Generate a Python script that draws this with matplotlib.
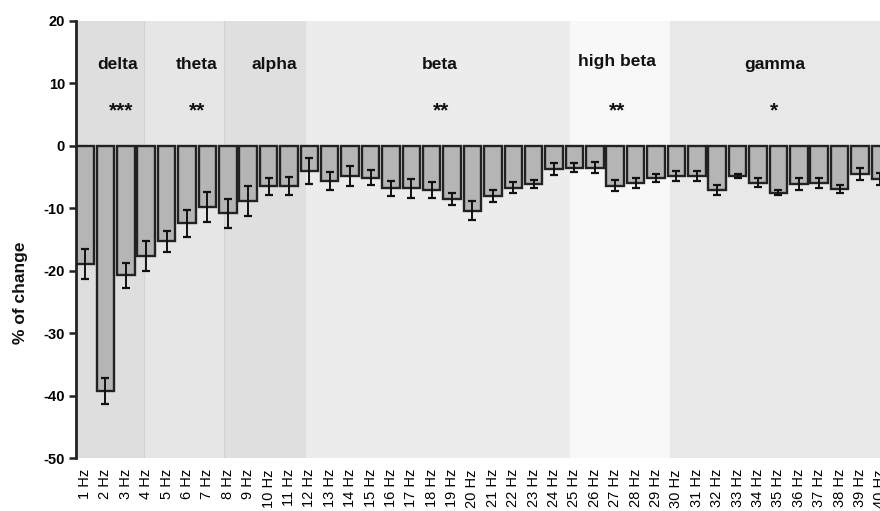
import matplotlib
matplotlib.use("Agg")
import matplotlib.pyplot as plt
import numpy as np

plt.rcParams['font.family'] = ['Liberation Sans', 'DejaVu Sans']
plt.rcParams['axes.unicode_minus'] = False

freqs = list(range(1, 41))
tick_labels = [f"{f} Hz" for f in freqs]
values = [-18.9, -39.3, -20.7, -17.6, -15.3, -12.4, -9.8, -10.8, -8.9, -6.5,
          -6.4, -4.0, -5.6, -4.9, -5.1, -6.8, -6.8, -7.1, -8.5, -10.4,
          -8.0, -6.7, -6.1, -3.7, -3.5, -3.5, -6.4, -5.9, -5.1, -4.8,
          -4.8, -7.1, -4.8, -5.9, -7.5, -6.1, -6.0, -6.95, -4.5, -5.3]
errors = [2.4, 2.1, 2.0, 2.4, 1.7, 2.2, 2.4, 2.3, 2.4, 1.3,
          1.4, 2.1, 1.4, 1.6, 1.2, 1.25, 1.5, 1.3, 1.0, 1.5,
          1.0, 0.9, 0.6, 1.0, 0.7, 0.9, 0.9, 0.8, 0.65, 0.75,
          0.75, 0.8, 0.3, 0.7, 0.4, 1.0, 0.8, 0.65, 0.9, 1.0]

band_names = ["delta", "theta", "alpha", "beta", "high beta", "gamma"]
band_edges = [0.56, 3.87, 7.83, 11.83, 24.77, 29.67, 40.6]
band_colors = ["#dedede", "#e6e6e6", "#dfdfdf", "#ececec", "#f8f8f8", "#e8e8e8"]
band_label_x = [2.62, 6.49, 10.26, 18.4, 27.08, 34.8]
band_label_y = [13.0, 13.0, 13.0, 13.0, 13.5, 13.0]
stars = ["***", "**", "", "**", "**", "*"]
star_x = [2.76, 6.49, 10.26, 18.45, 27.1, 34.8]

fig = plt.figure(figsize=(8.8, 5.11), dpi=100)
ax = fig.add_axes([76/880, 1-458/511, 0.928, (458-21)/511])

for i in range(len(band_names)):
    ax.axvspan(band_edges[i], band_edges[i+1], color=band_colors[i], lw=0, zorder=0)
for e in band_edges[1:3]:
    ax.axvline(e, color="#d2d2d2", lw=0.8, zorder=0.5)

ax.bar(freqs, values, width=0.86, color="#b5b5b5", edgecolor="#222222",
       linewidth=1.7, zorder=2)
ax.errorbar(freqs, values, yerr=errors, fmt="none", ecolor="#111111",
            elinewidth=1.4, capsize=3.2, capthick=1.6, zorder=3)

for name, x, y in zip(band_names, band_label_x, band_label_y):
    ax.text(x, y, name, ha="center", va="center", fontsize=12.5,
            fontweight="bold", color="#111111", zorder=4)
for s, x in zip(stars, star_x):
    if s:
        ax.text(x, 5.6, s, ha="center", va="center", fontsize=15,
                fontweight="bold", color="#111111", zorder=4)

ax.set_xlim(band_edges[0], band_edges[-1])
ax.set_ylim(-50, 20)
ax.set_yticks(range(-50, 21, 10))
ax.set_xticks(freqs)
ax.set_xticklabels(tick_labels, rotation=90, fontsize=10.5)
for lab in ax.get_yticklabels():
    lab.set_fontweight("bold")
    lab.set_fontsize(10.5)
ax.tick_params(axis="x", length=0, pad=8)
ax.tick_params(axis="y", length=5, width=1.8, color="#222222", pad=3)
for sp in ["top", "right", "bottom"]:
    ax.spines[sp].set_visible(False)
ax.spines["left"].set_linewidth(2)
ax.spines["left"].set_color("#222222")
ax.spines["left"].set_zorder(5)

fig.text(20/880, 1-293/511, "% of change", rotation=90, ha="center",
         va="center", fontsize=12.5, fontweight="bold", color="#111111")

fig.savefig("out.png", dpi=100)
